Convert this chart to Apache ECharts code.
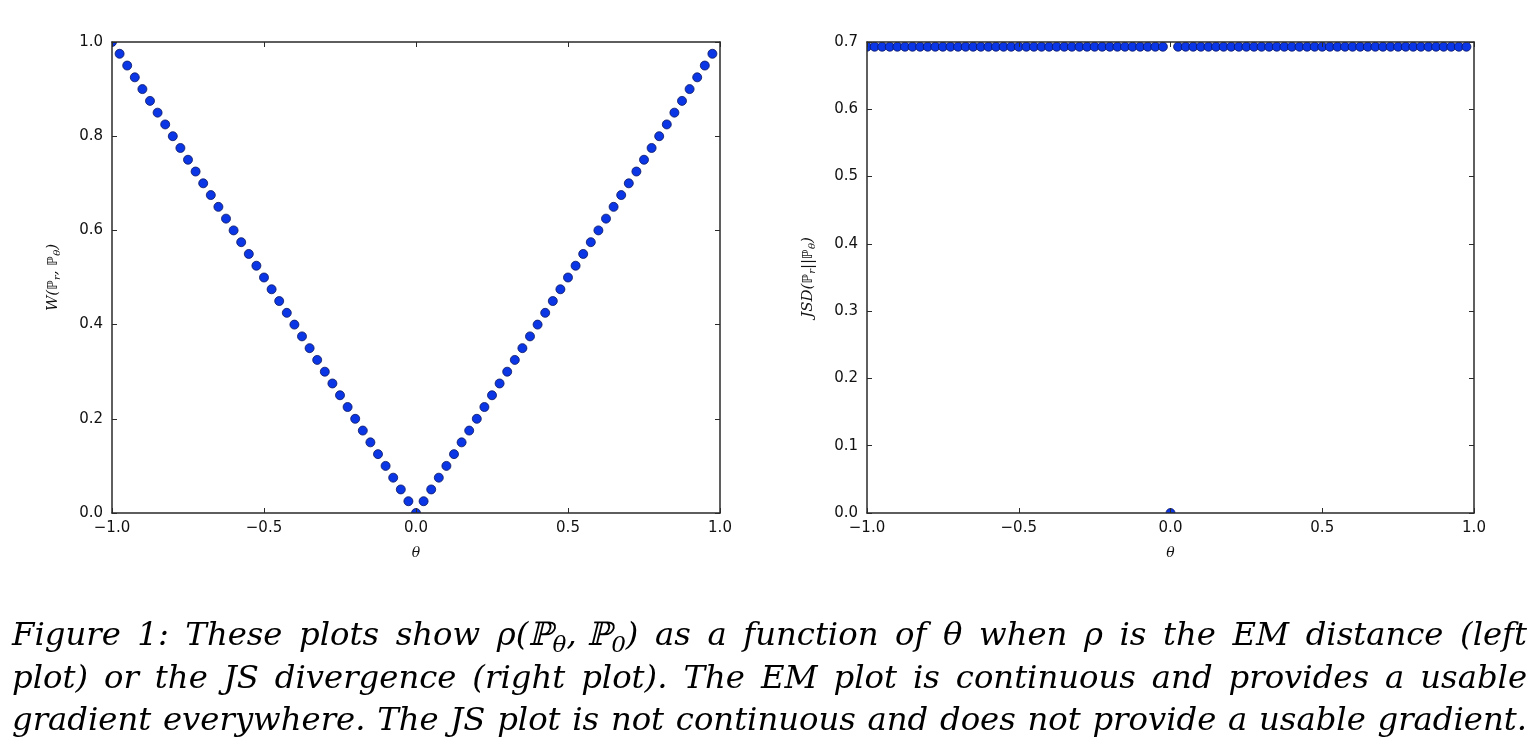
<!DOCTYPE html>
<html><head><meta charset="utf-8">
<script src="https://cdn.jsdelivr.net/npm/echarts@6/dist/echarts.min.js"></script>
<style>html,body{margin:0;padding:0;background:#fff}#c{width:1539px;height:753px}</style>
</head><body><div id="c"></div>
<script>
// ---- data ----
const theta = [-1.0,-0.975,-0.95,-0.925,-0.9,-0.875,-0.85,-0.825,-0.8,-0.775,-0.75,-0.725,-0.7,-0.675,-0.65,-0.625,-0.6,-0.575,-0.55,-0.525,-0.5,-0.475,-0.45,-0.425,-0.4,-0.375,-0.35,-0.325,-0.3,-0.275,-0.25,-0.225,-0.2,-0.175,-0.15,-0.125,-0.1,-0.075,-0.05,-0.025,0.0,0.025,0.05,0.075,0.1,0.125,0.15,0.175,0.2,0.225,0.25,0.275,0.3,0.325,0.35,0.375,0.4,0.425,0.45,0.475,0.5,0.525,0.55,0.575,0.6,0.625,0.65,0.675,0.7,0.725,0.75,0.775,0.8,0.825,0.85,0.875,0.9,0.925,0.95,0.975];
const emDistance = [1.0,0.975,0.95,0.925,0.9,0.875,0.85,0.825,0.8,0.775,0.75,0.725,0.7,0.675,0.65,0.625,0.6,0.575,0.55,0.525,0.5,0.475,0.45,0.425,0.4,0.375,0.35,0.325,0.3,0.275,0.25,0.225,0.2,0.175,0.15,0.125,0.1,0.075,0.05,0.025,0.0,0.025,0.05,0.075,0.1,0.125,0.15,0.175,0.2,0.225,0.25,0.275,0.3,0.325,0.35,0.375,0.4,0.425,0.45,0.475,0.5,0.525,0.55,0.575,0.6,0.625,0.65,0.675,0.7,0.725,0.75,0.775,0.8,0.825,0.85,0.875,0.9,0.925,0.95,0.975];
const jsDivergence = [0.693,0.693,0.693,0.693,0.693,0.693,0.693,0.693,0.693,0.693,0.693,0.693,0.693,0.693,0.693,0.693,0.693,0.693,0.693,0.693,0.693,0.693,0.693,0.693,0.693,0.693,0.693,0.693,0.693,0.693,0.693,0.693,0.693,0.693,0.693,0.693,0.693,0.693,0.693,0.693,0.0,0.693,0.693,0.693,0.693,0.693,0.693,0.693,0.693,0.693,0.693,0.693,0.693,0.693,0.693,0.693,0.693,0.693,0.693,0.693,0.693,0.693,0.693,0.693,0.693,0.693,0.693,0.693,0.693,0.693,0.693,0.693,0.693,0.693,0.693,0.693,0.693,0.693,0.693,0.693];
const xRange = [-1, 1], xStep = 0.5;
const yRangeLeft = [0, 1], yStepLeft = 0.2;
const yRangeRight = [0, 0.7], yStepRight = 0.1;
const captionLines = [
  'Figure 1: These plots show § as a function of θ when ρ is the EM distance (left',
  'plot) or the JS divergence (right plot). The EM plot is continuous and provides a usable',
  'gradient everywhere. The JS plot is not continuous and does not provide a usable gradient.'
];

// ---- layout ----
const G = [
  {left:112, top:42, width:608, height:471},
  {left:867, top:42, width:607, height:471}
];
const AX = {color:'#2a2a2a', width:1.5};
const tickFmt = v => (v < 0 ? '−' : '') + Math.abs(v).toFixed(1);
const labelStyle = {fontFamily:'"DejaVu Sans"', fontSize:15, color:'#111'};

function xAx(gi, pos, labels){
  return {type:'value', gridIndex:gi, position:pos, min:xRange[0], max:xRange[1], interval:xStep,
    axisLine:{show:true, onZero:false, lineStyle:AX},
    axisTick:{show:true, inside:true, length:5, lineStyle:{color:'#2a2a2a', width:1}},
    axisLabel:Object.assign({show:labels, formatter:tickFmt, margin:8}, labelStyle),
    splitLine:{show:false},
    name: labels ? 'θ' : '', nameLocation:'middle', nameGap:33,
    nameTextStyle:{fontFamily:'"DejaVu Serif"', fontStyle:'italic', fontSize:14, color:'#111'},
    z:5};
}
function yAx(gi, pos, labels, rng, step, name){
  return {type:'value', gridIndex:gi, position:pos, min:rng[0], max:rng[1], interval:step,
    axisLine:{show:true, onZero:false, lineStyle:AX},
    axisTick:{show:true, inside:true, length:5, lineStyle:{color:'#2a2a2a', width:1}},
    axisLabel:Object.assign({show:labels, formatter:tickFmt, margin:9}, labelStyle),
    splitLine:{show:false},
    name: labels ? name : '', nameLocation:'middle', nameGap:50, nameRotate:90,
    nameTextStyle:{color:'#111', rich:{
      i:{fontFamily:'"DejaVu Serif"', fontStyle:'italic', fontSize:15, color:'#111'},
      b:{fontFamily:'"DejaVu Sans"', fontSize:14, color:'#111'},
      s:{fontFamily:'"DejaVu Serif"', fontStyle:'italic', fontSize:10, color:'#111', padding:[8,0,0,0]}
    }},
    z:5};
}

const mk = {symbol:'circle', symbolSize:9, itemStyle:{color:'#0a36e6', borderColor:'#0b1760', borderWidth:0.8, opacity:1}};

const masks = [];
G.forEach(g => {
  masks.push({type:'rect', z:4, shape:{x:g.left-10, y:g.top-10, width:g.width+20, height:10}, style:{fill:'#fff'}});
  masks.push({type:'rect', z:4, shape:{x:g.left-10, y:g.top+g.height, width:g.width+20, height:6}, style:{fill:'#fff'}});
  masks.push({type:'rect', z:4, shape:{x:g.left-6, y:g.top-10, width:6, height:g.height+16}, style:{fill:'#fff'}});
});

// ---- caption (justified word by word) ----
const ctx = document.createElement('canvas').getContext('2d');
const FAM = '"DejaVu Serif", serif';
const fontOf = s => `italic ${s}px ${FAM}`;
function mw(t, s){ ctx.font = fontOf(s); return ctx.measureText(t).width; }
const mathAt = s => [['ρ(ℙ',s,0],['θ',Math.round(s*0.7),Math.round(s*0.28)],[', ℙ',s,0],['0',Math.round(s*0.7),Math.round(s*0.28)],[')',s,0]];
const capX0 = 12, capX1 = 1527, capY = [637, 680, 722];
function wordW(w, s){ return w === '§' ? mathAt(s).reduce((a,p)=>a+mw(p[0],p[1]),0) : mw(w, s); }
// choose size so the widest line fits with natural spacing
let natMax = 0;
captionLines.forEach(line => {
  const ws = line.split(' ');
  const tot = ws.reduce((a,w)=>a+wordW(w,30),0) + (ws.length-1)*0.36*30;
  natMax = Math.max(natMax, tot);
});
const FS = Math.min(34, Math.floor(30 * (capX1 - capX0) / natMax * 10) / 10);
const caption = [];
captionLines.forEach((line, li) => {
  const words = line.split(' ');
  const widths = words.map(w => wordW(w, FS));
  const total = widths.reduce((a,b)=>a+b,0);
  const gap = (capX1 - capX0 - total) / (words.length - 1);
  let x = capX0;
  words.forEach((w, i) => {
    if (w === '§') {
      let xx = x;
      mathAt(FS).forEach(p => {
        caption.push({type:'text', z:10, x:xx, y:capY[li] + p[2], style:{text:p[0], font:fontOf(p[1]), fill:'#000', verticalAlign:'middle', align:'left'}});
        xx += mw(p[0], p[1]);
      });
    } else {
      caption.push({type:'text', z:10, x:x, y:capY[li], style:{text:w, font:fontOf(FS), fill:'#000', verticalAlign:'middle', align:'left'}});
    }
    x += widths[i] + gap;
  });
});

const chart = echarts.init(document.getElementById('c'), null, {renderer:'canvas'});
chart.setOption({
  animation:false,
  backgroundColor:'#fff',
  grid:G.map(g => Object.assign({show:false, containLabel:false}, g)),
  xAxis:[xAx(0,'bottom',true), xAx(0,'top',false), xAx(1,'bottom',true), xAx(1,'top',false)],
  yAxis:[
    yAx(0,'left',true,yRangeLeft,yStepLeft,'{i|W(}{b|ℙ}{s|r}{i|, }{b|ℙ}{s|θ}{i|)}'),
    yAx(0,'right',false,yRangeLeft,yStepLeft,''),
    yAx(1,'left',true,yRangeRight,yStepRight,'{i|JSD(}{b|ℙ}{s|r}{i|||}{b|ℙ}{s|θ}{i|)}'),
    yAx(1,'right',false,yRangeRight,yStepRight,'')
  ],
  series:[
    Object.assign({type:'scatter', xAxisIndex:0, yAxisIndex:0, clip:false, z:2,
      data: theta.map((t,i)=>[t, emDistance[i]])}, mk),
    Object.assign({type:'scatter', xAxisIndex:2, yAxisIndex:2, clip:false, z:2,
      data: theta.map((t,i)=>[t, jsDivergence[i]])}, mk)
  ],
  graphic: masks.concat(caption)
});
</script></body></html>
